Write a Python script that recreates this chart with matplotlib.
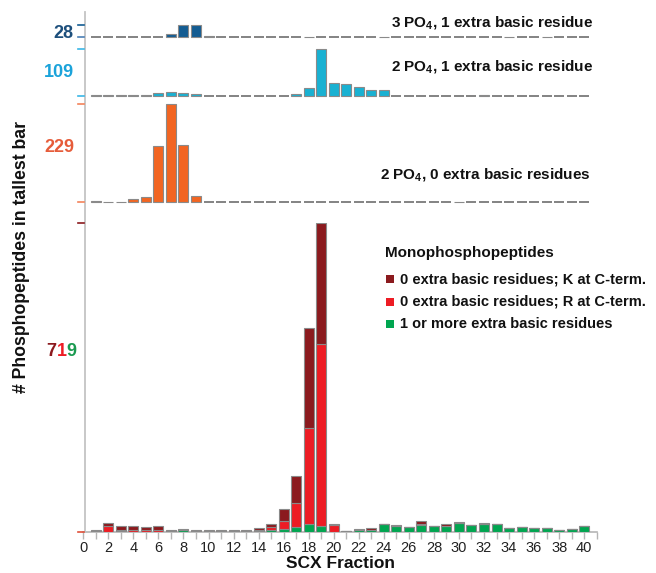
import matplotlib
matplotlib.use('Agg')
import matplotlib.pyplot as plt
from matplotlib.lines import Line2D

# ---------------- data ----------------
fractions = list(range(1, 41))
tick_labels = [str(v) for v in range(0, 41, 2)]

tri_1basic = [0, 0, 0, 0, 0, 0, 7.5, 28, 27, 3,
              0, 0, 0, 0, 0, 0, 0, 0.5, 0, 0,
              0, 0, 0, 0.5, 0, 0, 0, 0, 0, 0,
              0, 0, 0, 0.5, 0, 0, 0.5, 0, 0, 0]
di_1basic = [0.5, 0.5, 0.5, 0.5, 0.5, 5, 8, 7, 4, 0,
             0, 0, 0, 0, 0, 0, 4, 18, 109, 29,
             26, 19, 14, 12, 0, 0, 0, 0, 0, 0,
             0, 0.5, 0, 0, 0, 0, 0, 0, 0, 0]
di_0basic = [3, 0.5, 1.5, 8.5, 13, 130, 229, 134, 15, 0,
             0, 0, 0, 0, 0, 0, 0, 0, 0, 0,
             0, 0, 0, 0, 0, 0, 0, 0, 0, 0.5,
             0, 0, 0, 0, 0, 0, 0, 0, 0, 0]
mono_basic = [0, 0, 1, 0, 0, 0, 0, 4, 0, 0,
              0, 0, 0, 1, 5, 6, 10, 17, 13, 0,
              1, 3, 5, 17, 13, 10, 16, 13, 14, 20,
              15, 19, 18, 8, 11, 9, 8, 5, 6, 13]
mono_R = [1, 13, 4, 4, 3, 4, 1, 0, 1, 1,
          1, 1, 1, 2, 5, 19, 57, 225, 424, 16,
          0, 0, 0, 0, 0, 0, 3, 0, 0, 0,
          0, 0, 0, 0, 0, 0, 0, 0, 0, 0]
mono_K = [4, 8, 8, 10, 8, 9, 2, 2, 4, 3,
          2, 3, 3, 5, 8, 27, 62, 231, 282, 3,
          1, 4, 3, 1, 3, 1, 6, 1, 4, 2,
          1, 1, 0, 1, 1, 0, 0, 0, 0, 0]

panel_maxima = [28, 109, 229, 719]
panel_titles = ["3 PO$_\\mathbf{4}$, 1 extra basic residue",
                "2 PO$_\\mathbf{4}$, 1 extra basic residue",
                "2 PO$_\\mathbf{4}$, 0 extra basic residues"]
legend_title = "Monophosphopeptides"
legend_labels = ["0 extra basic residues; K at C-term.",
                 "0 extra basic residues; R at C-term.",
                 "1 or more extra basic residues"]

# ---------------- style ----------------
FONT = 'Liberation Sans'
plt.rcParams['font.family'] = [FONT, 'DejaVu Sans']
plt.rcParams['mathtext.fontset'] = 'custom'
plt.rcParams['mathtext.rm'] = FONT
plt.rcParams['mathtext.bf'] = FONT + ':bold'

C_TRI = '#135c92'
C_DI1 = '#19b1d2'
C_DI0 = '#f26522'
C_K = '#8b1a1e'
C_R = '#ed1c24'
C_B = '#00a650'
EDGE = '#8a8a8a'
DASH = '#7a7a7a'

W, H = 656, 573
fig = plt.figure(figsize=(W / 100, H / 100), dpi=100)
fig.patch.set_facecolor('white')


def fx(px):
    return px / W


def fy(py):
    return 1 - py / H


X0, X1 = 83.3, 596.7
BW = 0.8

# panel pixel extents (top, bottom)
extents = [(24.8, 36.8), (48.8, 95.6), (104.0, 202.3), (222.5, 531.7)]
tick_cols = [C_TRI, '#3ab6e6', '#f3835a', C_K]
bottom_tick_cols = ['#4a7fb5', '#3ab6e6', '#f3835a', '#e0503a']

axes = []
for (top, bot) in extents:
    ax = fig.add_axes([fx(X0), fy(bot), fx(X1) - fx(X0), (bot - top) / H])
    ax.set_xlim(0, 41)
    ax.patch.set_alpha(0)
    for s in ax.spines.values():
        s.set_visible(False)
    ax.set_yticks([])
    axes.append(ax)

series = [tri_1basic, di_1basic, di_0basic]
colors = [C_TRI, C_DI1, C_DI0]
for ax, vals, col, ymax in zip(axes[:3], series, colors, panel_maxima[:3]):
    ax.set_ylim(0, ymax)
    ax.set_xticks([])
    for f, v in zip(fractions, vals):
        if v > 0:
            ax.bar(f, v, width=BW, color=col, edgecolor=EDGE, linewidth=0.8,
                   clip_on=False, zorder=3)
        else:
            ax.plot([f - BW / 2, f + BW / 2], [0, 0], color=DASH, lw=1.3,
                    solid_capstyle='butt', clip_on=False, zorder=2)

ax4 = axes[3]
ax4.set_ylim(0, panel_maxima[3])
ax4.bar(fractions, mono_basic, width=BW, color=C_B, edgecolor=EDGE,
        linewidth=0.8, zorder=3)
ax4.bar(fractions, mono_R, width=BW, bottom=mono_basic, color=C_R,
        edgecolor=EDGE, linewidth=0.8, zorder=3)
bottoms_k = [a + c for a, c in zip(mono_basic, mono_R)]
ax4.bar(fractions, mono_K, width=BW, bottom=bottoms_k, color=C_K,
        edgecolor=EDGE, linewidth=0.8, zorder=3)

ax4.spines['bottom'].set_visible(True)
ax4.spines['bottom'].set_color('#b5b5b5')
ax4.spines['bottom'].set_linewidth(1.2)
ax4.set_xticks(list(range(0, 42)))
ax4.set_xticklabels([str(v) if v % 2 == 0 and v <= 40 else '' for v in range(0, 42)])
ax4.tick_params(axis='x', colors='#b5b5b5', length=5, width=1.0,
                labelcolor='#222222', labelsize=10.5, pad=2)

fig.text(fx(341), fy(564), 'SCX Fraction', fontsize=12.5, fontweight='bold',
         color='#111111', ha='center', va='center')

# vertical axis line spanning all panels
fig.add_artist(Line2D([fx(84.5), fx(84.5)], [fy(11.7), fy(531.7)],
                      color='#c4c4c4', lw=1.3))

# colored tick marks
for (top, bot), tc, bc in zip(extents, tick_cols, bottom_tick_cols):
    fig.add_artist(Line2D([fx(77.5), fx(83.5)], [fy(top), fy(top)], color=tc, lw=1.2))
    fig.add_artist(Line2D([fx(77.5), fx(83.5)], [fy(bot), fy(bot)], color=bc, lw=1.2))

# max labels
LBL_SIZE = 13
fig.text(fx(73.5), fy(33.3), str(panel_maxima[0]), color='#1d4f7c', fontsize=LBL_SIZE,
         fontweight='bold', ha='right', va='center')
fig.text(fx(74), fy(72.7), str(panel_maxima[1]), color='#1ba3da', fontsize=LBL_SIZE,
         fontweight='bold', ha='right', va='center')
fig.text(fx(74), fy(147.7), str(panel_maxima[2]), color='#e65c3a', fontsize=LBL_SIZE,
         fontweight='bold', ha='right', va='center')

# multi-coloured 719: one text per digit, using the font's fixed digit advance
full = str(panel_maxima[3])
dcols = [C_K, C_R, '#1a9a50']
adv = 0.556 * LBL_SIZE * 100 / 72.0   # digit advance in pixels
for i, (d, c) in enumerate(zip(full, dcols)):
    fig.text(fx(46.5 + i * adv), fy(356.5), d, color=c, fontsize=LBL_SIZE,
             fontweight='bold', ha='left', va='baseline')

# panel titles
title_pos = [(593, 27.5), (593, 71.7), (591, 179.3)]
for txt, (px, py) in zip(panel_titles, title_pos):
    fig.text(fx(px), fy(py), txt, fontsize=11, fontweight='bold', color='#111111',
             ha='right', va='baseline')

# y label
fig.text(fx(21.5), fy(256.7), '# Phosphopeptides in tallest bar', rotation=90,
         fontsize=12.7, fontweight='bold', color='#111111', ha='center', va='center')

# legend
fig.text(fx(385), fy(256.7), legend_title, fontsize=11, fontweight='bold',
         color='#111111', ha='left', va='baseline')
for lab, col, py in zip(legend_labels, [C_K, C_R, C_B], [279, 301.7, 324.3]):
    fig.patches.append(plt.Rectangle((fx(386), fy(py + 4)), 8 / W, 8 / H,
                                     transform=fig.transFigure, facecolor=col,
                                     edgecolor='none', figure=fig))
    fig.text(fx(400), fy(py), lab, fontsize=10.5, fontweight='bold',
             color='#111111', ha='left', va='center')

fig.savefig('out.png', dpi=100, facecolor='white')
